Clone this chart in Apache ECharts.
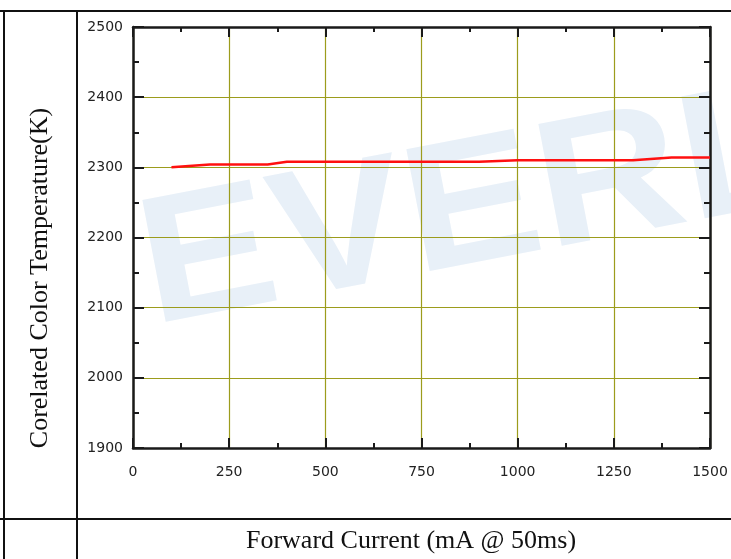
<!DOCTYPE html>
<html>
<head>
<meta charset="utf-8">
<script src="https://cdn.jsdelivr.net/npm/echarts@6/dist/echarts.min.js"></script>
<style>html,body{margin:0;padding:0;background:#fff;}#c{width:731px;height:559px;}</style>
</head>
<body>
<div id="c"></div>
<script>
const currents = [100, 200, 350, 400, 900, 1000, 1300, 1400, 1500];
const cct = [2300, 2304, 2304, 2308, 2308, 2310, 2310, 2314, 2314];
const xTicks = [0, 250, 500, 750, 1000, 1250, 1500];
const yTicks = [1900, 2000, 2100, 2200, 2300, 2400, 2500];
const yTitle = 'Corelated Color Temperature(K)';
const xTitle = 'Forward Current (mA @ 50ms)';
const watermark = 'EVERL';

const chart = echarts.init(document.getElementById('c'));
const axisLine = {show: true, onZero: false, lineStyle: {color: '#1a1a1a', width: 2.5}};
const gridColor = '#9c9c1c';
const labelStyle = {fontFamily: 'DejaVu Sans', fontSize: 14, color: '#222', formatter: v => String(v)};
function xa(pos, showLabel, showGrid) {
  return {
    type: 'value', position: pos, min: xTicks[0], max: xTicks[xTicks.length-1], interval: 250,
    axisLine: axisLine,
    axisTick: {show: true, inside: true, length: 10, lineStyle: {color: '#1a1a1a', width: 2}},
    minorTick: {show: true, splitNumber: 2, length: 5, lineStyle: {color: '#1a1a1a', width: 2}},
    axisLabel: Object.assign({show: showLabel, margin: 17}, labelStyle),
    splitLine: {show: showGrid, lineStyle: {color: gridColor, width: 1.2}}
  };
}
function ya(pos, showLabel, showGrid) {
  return {
    type: 'value', position: pos, min: yTicks[0], max: yTicks[yTicks.length-1], interval: 100,
    axisLine: axisLine,
    axisTick: {show: true, inside: true, length: 11, lineStyle: {color: '#1a1a1a', width: 2}},
    minorTick: {show: true, splitNumber: 2, length: 6, lineStyle: {color: '#1a1a1a', width: 2}},
    axisLabel: Object.assign({show: showLabel, margin: 10}, labelStyle),
    splitLine: {show: showGrid, lineStyle: {color: gridColor, width: 1.2}}
  };
}
const L = {stroke: '#111', lineWidth: 2};
chart.setOption({
  animation: false,
  backgroundColor: '#fff',
  grid: {left: 133, right: 21, top: 27, bottom: 111},
  xAxis: [xa('bottom', true, true), xa('top', false, false)],
  yAxis: [ya('left', true, true), ya('right', false, false)],
  graphic: [
    {type: 'text', z: -10, x: 160, y: 364, rotation: 0.19, scaleX: 1.12, silent: true,
     style: {text: watermark, font: 'bold 180px Liberation Sans', fill: '#e8f0f8', align: 'left', verticalAlign: 'bottom'}},
    {type: 'line', shape: {x1: 0, y1: 11, x2: 731, y2: 11}, style: L},
    {type: 'line', shape: {x1: 0, y1: 519, x2: 731, y2: 519}, style: L},
    {type: 'line', shape: {x1: 4, y1: 11, x2: 4, y2: 559}, style: L},
    {type: 'line', shape: {x1: 77, y1: 11, x2: 77, y2: 559}, style: L},
    {type: 'text', x: 40, y: 278, rotation: Math.PI/2, style: {text: yTitle, font: '26px Liberation Serif', fill: '#111', align: 'center', verticalAlign: 'middle'}},
    {type: 'text', x: 411, y: 541, style: {text: xTitle, font: '26px Liberation Serif', fill: '#111', align: 'center', verticalAlign: 'middle'}}
  ],
  series: [{
    type: 'line', xAxisIndex: 0, yAxisIndex: 0,
    data: currents.map((c, i) => [c, cct[i]]),
    showSymbol: false, symbol: 'none',
    lineStyle: {color: '#ff1010', width: 2.5}
  }]
});
</script>
</body>
</html>
